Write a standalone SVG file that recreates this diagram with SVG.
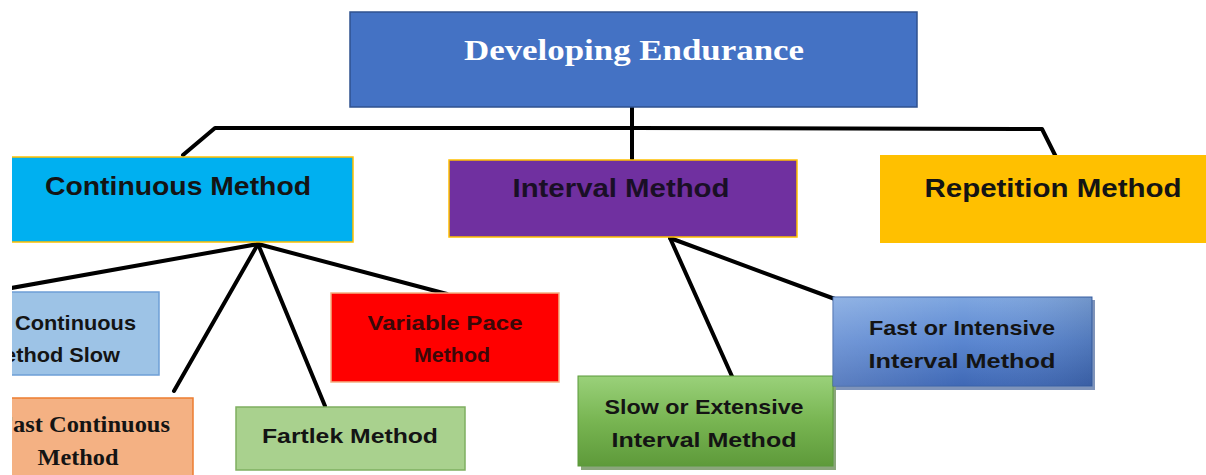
<svg xmlns="http://www.w3.org/2000/svg" width="1206" height="475" viewBox="0 0 1206 475">
<defs>
<clipPath id="page"><rect x="12" y="0" width="1194" height="475"/></clipPath>
<linearGradient id="gGreen" x1="0" y1="0" x2="0" y2="1">
<stop offset="0" stop-color="#9AD17A"/><stop offset="0.5" stop-color="#78B552"/><stop offset="1" stop-color="#5E9A3A"/>
</linearGradient>
<linearGradient id="gBlue" x1="0" y1="0" x2="0" y2="1">
<stop offset="0" stop-color="#7EA6E0"/><stop offset="0.5" stop-color="#5A86D0"/><stop offset="1" stop-color="#3F68B5"/>
</linearGradient>
<linearGradient id="gBlueH" x1="0" y1="0" x2="1" y2="0">
<stop offset="0" stop-color="#ffffff" stop-opacity="0.15"/><stop offset="0.5" stop-color="#ffffff" stop-opacity="0"/><stop offset="1" stop-color="#000000" stop-opacity="0.1"/>
</linearGradient>
</defs>
<style>
.sans{font-family:"Liberation Sans","Noto Sans",Arial,sans-serif;font-weight:bold;fill:#141414}
.serif{font-family:"Liberation Serif","Times New Roman",serif;font-weight:bold}
.conn{stroke:#000;stroke-width:4;fill:none;stroke-linecap:round;stroke-linejoin:round}
</style>
<rect width="1206" height="475" fill="#ffffff"/>
<g clip-path="url(#page)">
<g id="connectors">
<polyline class="conn" points="183,155 215,128 632,128"/>
<polyline class="conn" points="632,128 1042,129 1058,161"/>
<line class="conn" x1="632" y1="107" x2="632" y2="159"/>
<line class="conn" x1="258" y1="244" x2="0" y2="290"/>
<line class="conn" x1="258" y1="244" x2="174" y2="391"/>
<line class="conn" x1="258" y1="244" x2="325" y2="406"/>
<line class="conn" x1="258" y1="244" x2="447" y2="294"/>
<line class="conn" x1="670" y1="238" x2="735" y2="383"/>
<line class="conn" x1="670" y1="238" x2="843" y2="302"/>
</g>
<g id="node-root">
<rect x="350" y="12" width="567" height="95" fill="#4472C4" stroke="#2F528F" stroke-width="1.5"/>
<text class="serif" x="634" y="60" font-size="30" fill="#ffffff" text-anchor="middle" textLength="340" lengthAdjust="spacingAndGlyphs">Developing Endurance</text>
</g>
<g id="node-continuous">
<rect x="0" y="157" width="353" height="85" fill="#00B0F0" stroke="#FFC000" stroke-width="1.5"/>
<text class="sans" x="178" y="195" font-size="25" text-anchor="middle" textLength="266" lengthAdjust="spacingAndGlyphs">Continuous Method</text>
</g>
<g id="node-interval">
<rect x="449" y="160" width="348" height="77" fill="#7030A0" stroke="#FFC000" stroke-width="1.5"/>
<text class="sans" x="621" y="197" font-size="25" text-anchor="middle" textLength="217" lengthAdjust="spacingAndGlyphs" style="fill:#1a0f26">Interval Method</text>
</g>
<g id="node-repetition">
<rect x="880" y="155" width="330" height="88" fill="#FFC000"/>
<text class="sans" x="1053" y="197" font-size="25" text-anchor="middle" textLength="257" lengthAdjust="spacingAndGlyphs">Repetition Method</text>
</g>
<g id="node-continuous-slow">
<rect x="-40" y="292" width="199" height="83" fill="#9DC3E6" stroke="#6E9FD6" stroke-width="1.5"/>
<text class="sans" x="136" y="330" font-size="21" text-anchor="end" textLength="121" lengthAdjust="spacingAndGlyphs">Continuous</text>
<text class="sans" x="120" y="362" font-size="21" text-anchor="end" textLength="134" lengthAdjust="spacingAndGlyphs">Method Slow</text>
</g>
<g id="node-fast-continuous">
<rect x="-20" y="398" width="213" height="82" fill="#F4B183" stroke="#ED7D31" stroke-width="1.5"/>
<text class="serif" x="170" y="432" font-size="23" fill="#141414" text-anchor="end" textLength="172" lengthAdjust="spacingAndGlyphs">Fast Continuous</text>
<text class="serif" x="78" y="465" font-size="23" fill="#141414" text-anchor="middle" textLength="81" lengthAdjust="spacingAndGlyphs">Method</text>
</g>
<g id="node-fartlek">
<rect x="236" y="407" width="229" height="63" fill="#A9D18E" stroke="#7FAF60" stroke-width="1.5"/>
<text class="sans" x="350" y="443" font-size="21" text-anchor="middle" textLength="176" lengthAdjust="spacingAndGlyphs">Fartlek Method</text>
</g>
<g id="node-variable-pace">
<rect x="331" y="293" width="228" height="89" fill="#FF0000" stroke="#F4B183" stroke-width="1.5"/>
<text class="sans" x="445" y="330" font-size="21" text-anchor="middle" textLength="155" lengthAdjust="spacingAndGlyphs" style="fill:#3a0808">Variable Pace</text>
<text class="sans" x="452" y="362" font-size="21" text-anchor="middle" textLength="76" lengthAdjust="spacingAndGlyphs" style="fill:#3a0808">Method</text>
</g>
<g id="node-slow-extensive">
<rect x="581" y="379" width="255" height="91" fill="#3E6B24" opacity="0.6"/>
<rect x="578" y="376" width="255" height="90" fill="url(#gGreen)" stroke="#5B9A3A" stroke-width="1"/>
<text class="sans" x="704" y="414" font-size="21" text-anchor="middle" textLength="199" lengthAdjust="spacingAndGlyphs">Slow or Extensive</text>
<text class="sans" x="704" y="447" font-size="21" text-anchor="middle" textLength="185" lengthAdjust="spacingAndGlyphs">Interval Method</text>
</g>
<g id="node-fast-intensive">
<rect x="836" y="300" width="259" height="90" fill="#2A4D8C" opacity="0.6"/>
<rect x="833" y="297" width="259" height="89" fill="url(#gBlue)" stroke="#3A62A8" stroke-width="1"/>
<rect x="833" y="297" width="259" height="89" fill="url(#gBlueH)"/>
<text class="sans" x="962" y="335" font-size="21" text-anchor="middle" textLength="186" lengthAdjust="spacingAndGlyphs">Fast or Intensive</text>
<text class="sans" x="962" y="368" font-size="21" text-anchor="middle" textLength="187" lengthAdjust="spacingAndGlyphs">Interval Method</text>
</g>
</g>
</svg>
